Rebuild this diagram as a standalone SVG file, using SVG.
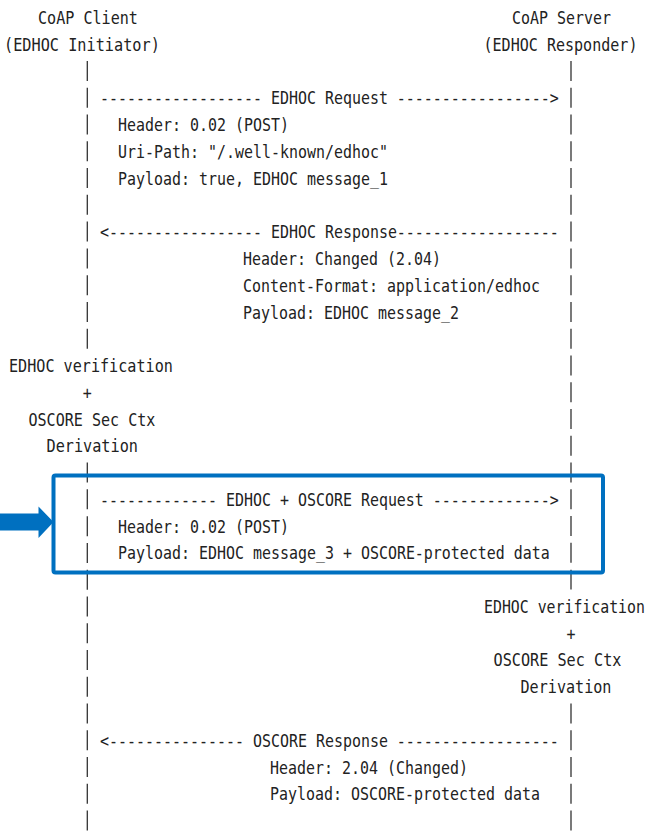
<svg xmlns="http://www.w3.org/2000/svg" width="648" height="831" viewBox="0 0 648 831">
<style>
text{font-family:"DejaVu Sans Mono","Liberation Mono",monospace;font-size:17px;fill:#222;white-space:pre}
.life{stroke:#333;stroke-width:1.3;stroke-dasharray:20 6.77;fill:none}
.hl{fill:none;stroke:#0070C0;stroke-width:4}
.blk{fill:#0070C0}
</style>
<rect width="648" height="831" fill="#fff"/>
<g id="connectors">
<line class="life" x1="87.3" y1="61" x2="87.3" y2="348.7"/>
<line class="life" x1="87.3" y1="462.6" x2="87.3" y2="831"/>
<line class="life" x1="571" y1="61" x2="571" y2="589.6"/>
<line class="life" x1="571" y1="703.5" x2="571" y2="831"/>
<text transform="translate(100,104.3) scale(0.8794,1)">------------------ EDHOC Request -----------------&gt;</text>
<text transform="translate(100,238.2) scale(0.8794,1)">&lt;----------------- EDHOC Response------------------</text>
<text transform="translate(100,505.9) scale(0.8794,1)">------------- EDHOC + OSCORE Request -------------&gt;</text>
<text transform="translate(100,746.8) scale(0.8794,1)">&lt;--------------- OSCORE Response ------------------</text>
</g>
<g id="client">
<text transform="translate(38,24) scale(0.8882,1)">CoAP Client</text>
<text transform="translate(4,50.8) scale(0.8966,1)">(EDHOC Initiator)</text>
</g>
<g id="server">
<text transform="translate(512,24) scale(0.8794,1)">CoAP Server</text>
<text transform="translate(483.5,50.8) scale(0.8851,1)">(EDHOC Responder)</text>
</g>
<g id="msg-edhoc-request">
<text transform="translate(118,131.1) scale(0.8794,1)">Header: 0.02 (POST)</text>
<text transform="translate(118,157.9) scale(0.8794,1)">Uri-Path: "/.well-known/edhoc"</text>
<text transform="translate(118,184.6) scale(0.8794,1)">Payload: true, EDHOC message_1</text>
</g>
<g id="msg-edhoc-response">
<text transform="translate(243,265) scale(0.8794,1)">Header: Changed (2.04)</text>
<text transform="translate(243,291.8) scale(0.8794,1)">Content-Format: application/edhoc</text>
<text transform="translate(243,318.5) scale(0.8794,1)">Payload: EDHOC message_2</text>
</g>
<g id="client-verification">
<text transform="translate(9,372) scale(0.8902,1)">EDHOC verification</text>
<text transform="translate(82.8,398.8) scale(0.8794,1)">+</text>
<text transform="translate(28.5,425.5) scale(0.8863,1)">OSCORE Sec Ctx</text>
<text transform="translate(46.5,452.3) scale(0.894,1)">Derivation</text>
</g>
<g id="msg-edhoc-oscore-request">
<text transform="translate(118,532.6) scale(0.8794,1)">Header: 0.02 (POST)</text>
<text transform="translate(118,559.4) scale(0.8794,1)">Payload: EDHOC message_3 + OSCORE-protected data</text>
</g>
<g id="server-verification">
<text transform="translate(484,612.9) scale(0.8739,1)">EDHOC verification</text>
<text transform="translate(566.5,639.7) scale(0.8794,1)">+</text>
<text transform="translate(493.5,666.4) scale(0.8933,1)">OSCORE Sec Ctx</text>
<text transform="translate(520.5,693.2) scale(0.8891,1)">Derivation</text>
</g>
<g id="msg-oscore-response">
<text transform="translate(270,773.6) scale(0.8794,1)">Header: 2.04 (Changed)</text>
<text transform="translate(270,800.3) scale(0.8794,1)">Payload: OSCORE-protected data</text>
</g>
<g id="highlight">
<rect class="hl" x="53.5" y="475.5" width="549.5" height="97" rx="2"/>
<polygon class="blk" points="0,513.5 38.5,513.5 38.5,506.5 53.5,522 38.5,538 38.5,530.5 0,530.5"/>
</g>
</svg>
